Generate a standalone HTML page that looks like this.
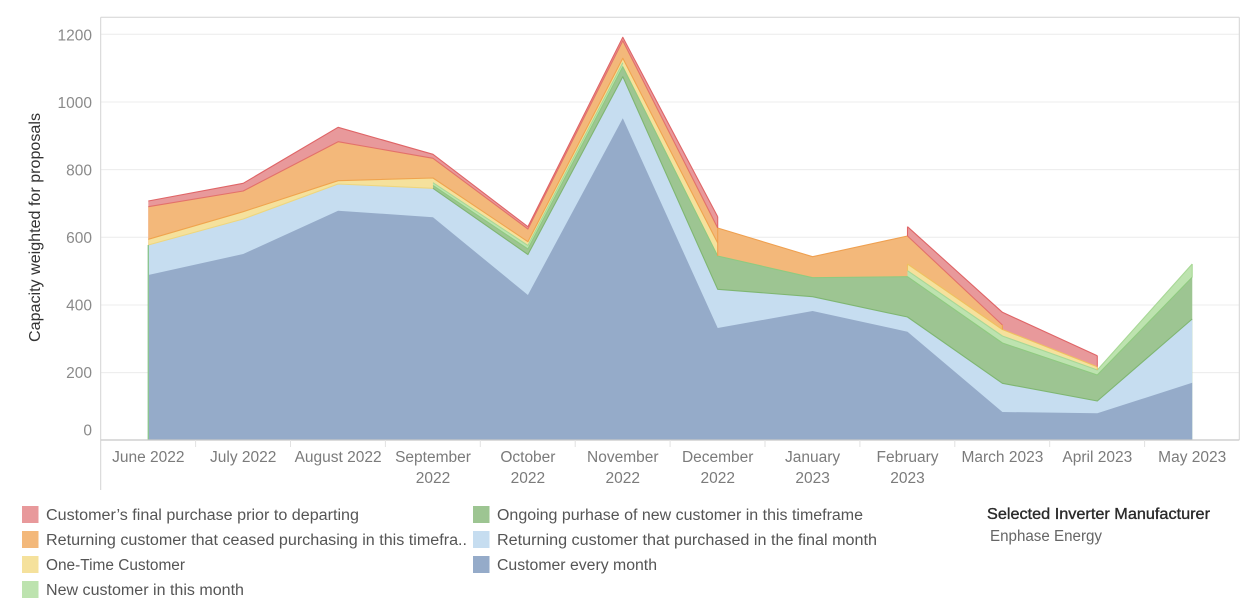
<!DOCTYPE html>
<html>
<head>
<meta charset="utf-8">
<style>
  html,body{margin:0;padding:0;background:#fff;}
  svg{display:block;}
  text{font-family:"Liberation Sans",sans-serif;}
</style>
</head>
<body>
<svg width="1250" height="602" viewBox="0 0 1250 602" xmlns="http://www.w3.org/2000/svg">
  <rect x="0" y="0" width="1250" height="602" fill="#ffffff"/>

  <!-- gridlines -->
  <g stroke="#ececec" stroke-width="1">
    <line x1="101" y1="34.3" x2="1239" y2="34.3"/>
    <line x1="101" y1="102" x2="1239" y2="102"/>
    <line x1="101" y1="169.6" x2="1239" y2="169.6"/>
    <line x1="101" y1="237.3" x2="1239" y2="237.3"/>
    <line x1="101" y1="305" x2="1239" y2="305"/>
    <line x1="101" y1="372.6" x2="1239" y2="372.6"/>
  </g>

  <!-- areas (painted top series first, each down to baseline) -->
  <g stroke="none">
    <polygon fill="#e8999b" points="148.3,201 243.2,183.3 338.1,127.3 433,154.3 527.9,226.7 622.8,37.3 717.7,216.7 717.7,440 148.3,440"/>
    <polygon fill="#e8999b" points="907.5,226.7 1002.4,312.3 1097.3,355.7 1097.3,440 907.5,440"/>
    <polygon fill="#f3b87a" points="148.3,206.7 243.2,191 338.1,141.7 433,158.3 527.9,229 622.8,40.7 717.7,228 812.6,256.7 907.5,236 1002.4,325 1002.4,440 148.3,440"/>
    <polygon fill="#f5e19c" points="148.3,239.3 243.2,211.7 338.1,180.7 433,178 527.9,241.7 622.8,58.3 717.7,243 717.7,440 148.3,440"/>
    <polygon fill="#f5e19c" points="907.5,264 1002.4,329.5 1097.3,366.7 1097.3,440 907.5,440"/>
    <polygon fill="#bde3af" points="433,182.7 527.9,245.5 622.8,62.7 622.8,440 433,440"/>
    <polygon fill="#bde3af" points="907.5,270.7 1002.4,336 1097.3,370 1192.2,264 1192.2,440 907.5,440"/>
    <polygon fill="#9dc592" points="433,185.5 527.9,249 622.8,66.7 717.7,256 812.6,277.7 907.5,276.7 1002.4,343 1097.3,375 1192.2,277.3 1192.2,440 433,440"/>
    <polygon fill="#c6ddf0" points="148.3,245 243.2,219 338.1,184 433,188.3 527.9,254.5 622.8,76.7 717.7,289.3 812.6,296.7 907.5,317 1002.4,383.3 1097.3,401 1192.2,319 1192.2,440 148.3,440"/>
    <polygon fill="#95abc9" points="148.3,275 243.2,254 338.1,210.7 433,217.3 527.9,295 622.8,118.3 717.7,328 812.6,311 907.5,331.7 1002.4,412 1097.3,413.3 1192.2,382.7 1192.2,440 148.3,440"/>
  </g>

  <!-- boundary strokes -->
  <g fill="none" stroke-width="1.1" stroke-linejoin="round">
    <!-- LB top -->
    <polyline stroke="#eed67e" points="148.3,245 243.2,219 338.1,184 433,188.3"/>
    <polyline stroke="#7fb672" points="433,188.3 527.9,254.5 622.8,76.7 717.7,289.3 812.6,296.7 907.5,317 1002.4,383.3 1097.3,401 1192.2,319"/>
    <!-- G top -->
    <polyline stroke="#8fca80" points="433,185.5 527.9,249 622.8,66.7 717.7,256 812.6,277.7 907.5,276.7 1002.4,343 1097.3,375 1192.2,277.3"/>
    <!-- LG top -->
    <polyline stroke="#a8d896" points="433,182.7 527.9,245.5 622.8,62.7"/>
    <polyline stroke="#a8d896" points="907.5,270.7 1002.4,336 1097.3,370 1192.2,264"/>
    <line stroke="#a8d896" x1="1192.2" y1="264" x2="1192.2" y2="277.3"/>
    <!-- Y top -->
    <polyline stroke="#f0a44e" points="148.3,239.3 243.2,211.7 338.1,180.7 433,178 527.9,241.7 622.8,58.3 717.7,243"/>
    <polyline stroke="#f0c060" points="907.5,264 1002.4,329.5 1097.3,366.7"/>
    <line stroke="#f0c060" x1="907.5" y1="264" x2="907.5" y2="270.7"/>
    <line stroke="#f0c060" x1="1097.3" y1="366.7" x2="1097.3" y2="370"/>
    <!-- O top -->
    <polyline stroke="#e3716a" points="148.3,206.7 243.2,191 338.1,141.7 433,158.3 527.9,229 622.8,40.7 717.7,228"/>
    <polyline stroke="#efa050" points="717.7,228 812.6,256.7 907.5,236"/>
    <polyline stroke="#e3716a" points="907.5,236 1002.4,325"/>
    <line stroke="#efa050" x1="717.7" y1="228" x2="717.7" y2="256"/>
    <line stroke="#efa050" x1="1002.4" y1="325" x2="1002.4" y2="329.5"/>
    <!-- R top -->
    <polyline stroke="#df6567" points="148.3,201 243.2,183.3 338.1,127.3 433,154.3 527.9,226.7 622.8,37.3 717.7,216.7"/>
    <polyline stroke="#df6567" points="907.5,226.7 1002.4,312.3 1097.3,355.7"/>
    <line stroke="#df6567" x1="717.7" y1="216.7" x2="717.7" y2="228"/>
    <line stroke="#df6567" x1="907.5" y1="226.7" x2="907.5" y2="236"/>
    <line stroke="#df6567" x1="1097.3" y1="355.7" x2="1097.3" y2="366.7"/>
    <!-- June green edge -->
    <line stroke="#8cc591" stroke-width="1.4" x1="148.3" y1="245" x2="148.3" y2="440"/>
  </g>

  <!-- frame -->
  <g stroke="#d4d4d4" stroke-width="1" fill="none">
    <line x1="100.7" y1="17.3" x2="1239.3" y2="17.3"/>
    <line x1="1239.3" y1="17.3" x2="1239.3" y2="440"/>
    <line x1="100.7" y1="17.3" x2="100.7" y2="490"/>
  </g>
  <line x1="100.7" y1="440" x2="1239.3" y2="440" stroke="#c8c8c8" stroke-width="1.2"/>

  <!-- header ticks -->
  <g stroke="#e2e2e2" stroke-width="1">
    <line x1="195.6" y1="440" x2="195.6" y2="447"/>
    <line x1="290.5" y1="440" x2="290.5" y2="447"/>
    <line x1="385.4" y1="440" x2="385.4" y2="447"/>
    <line x1="480.3" y1="440" x2="480.3" y2="447"/>
    <line x1="575.2" y1="440" x2="575.2" y2="447"/>
    <line x1="670.1" y1="440" x2="670.1" y2="447"/>
    <line x1="765" y1="440" x2="765" y2="447"/>
    <line x1="859.9" y1="440" x2="859.9" y2="447"/>
    <line x1="954.8" y1="440" x2="954.8" y2="447"/>
    <line x1="1049.7" y1="440" x2="1049.7" y2="447"/>
    <line x1="1144.6" y1="440" x2="1144.6" y2="447"/>
  </g>

  <!-- y tick labels -->
  <g font-size="15.5" fill="#8a8a8a" text-anchor="end">
    <text x="92" y="40.5">1200</text>
    <text x="92" y="108">1000</text>
    <text x="92" y="175.5">800</text>
    <text x="92" y="243">600</text>
    <text x="92" y="310.5">400</text>
    <text x="92" y="378">200</text>
    <text x="92" y="435.5">0</text>
  </g>

  <!-- y axis title -->
  <text transform="translate(40,227.5) rotate(-90)" text-anchor="middle" font-size="15.5" fill="#333" textLength="229" lengthAdjust="spacingAndGlyphs">Capacity weighted for proposals</text>

  <!-- x labels -->
  <g font-size="15.5" fill="#7b7b7b" text-anchor="middle">
    <text x="148.3" y="462">June 2022</text>
    <text x="243.2" y="462">July 2022</text>
    <text x="338.1" y="462">August 2022</text>
    <text x="433" y="462">September</text>
    <text x="433" y="483">2022</text>
    <text x="527.9" y="462">October</text>
    <text x="527.9" y="483">2022</text>
    <text x="622.8" y="462">November</text>
    <text x="622.8" y="483">2022</text>
    <text x="717.7" y="462">December</text>
    <text x="717.7" y="483">2022</text>
    <text x="812.6" y="462">January</text>
    <text x="812.6" y="483">2023</text>
    <text x="907.5" y="462">February</text>
    <text x="907.5" y="483">2023</text>
    <text x="1002.4" y="462">March 2023</text>
    <text x="1097.3" y="462">April 2023</text>
    <text x="1192.2" y="462">May 2023</text>
  </g>

  <!-- legend -->
  <g>
    <rect x="22" y="506" width="16.5" height="17" fill="#e8999b"/>
    <rect x="22" y="531" width="16.5" height="17" fill="#f3b87a"/>
    <rect x="22" y="556" width="16.5" height="17" fill="#f5e19c"/>
    <rect x="22" y="581" width="16.5" height="17" fill="#bde3af"/>
    <rect x="473" y="506" width="16.5" height="17" fill="#9dc592"/>
    <rect x="473" y="531" width="16.5" height="17" fill="#c6ddf0"/>
    <rect x="473" y="556" width="16.5" height="17" fill="#95abc9"/>
  </g>
  <g font-size="15.5" fill="#555">
    <text x="46" y="520" textLength="313" lengthAdjust="spacingAndGlyphs">Customer’s final purchase prior to departing</text>
    <text x="46" y="545" textLength="421" lengthAdjust="spacingAndGlyphs">Returning customer that ceased purchasing in this timefra..</text>
    <text x="46" y="570" textLength="139" lengthAdjust="spacingAndGlyphs">One-Time Customer</text>
    <text x="46" y="595" textLength="198" lengthAdjust="spacingAndGlyphs">New customer in this month</text>
    <text x="497" y="520" textLength="366" lengthAdjust="spacingAndGlyphs">Ongoing purhase of new customer in this timeframe</text>
    <text x="497" y="545" textLength="380" lengthAdjust="spacingAndGlyphs">Returning customer that purchased in the final month</text>
    <text x="497" y="570" textLength="160" lengthAdjust="spacingAndGlyphs">Customer every month</text>
  </g>
  <text x="987" y="519" font-size="15.5" fill="#2a2a2a" stroke="#2a2a2a" stroke-width="0.35" textLength="223" lengthAdjust="spacingAndGlyphs">Selected Inverter Manufacturer</text>
  <text x="990" y="541" font-size="15.5" fill="#666" textLength="112" lengthAdjust="spacingAndGlyphs">Enphase Energy</text>
</svg>
</body>
</html>
